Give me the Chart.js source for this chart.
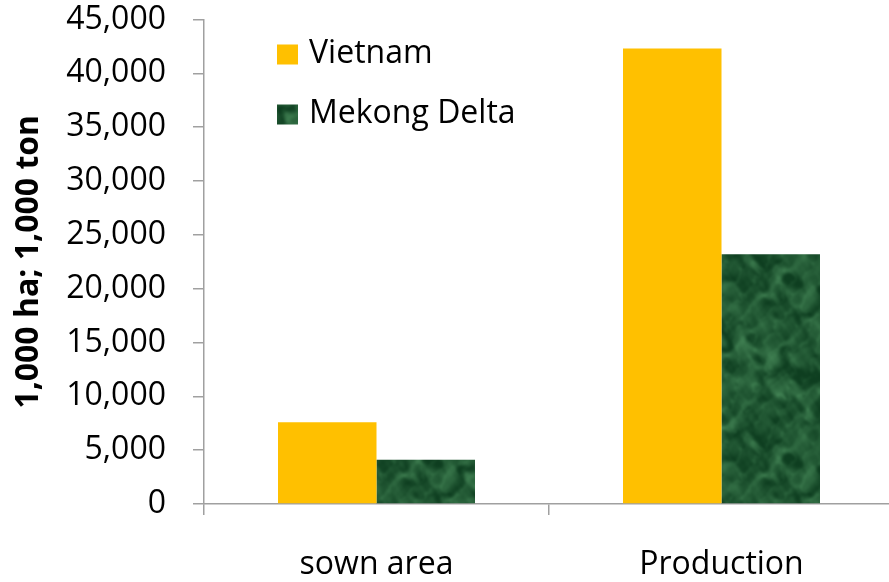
<!DOCTYPE html>
<html>
<head>
<meta charset="utf-8">
<script src="https://cdn.jsdelivr.net/npm/chart.js@4/dist/chart.umd.min.js"></script>
<style>
  html, body { margin: 0; padding: 0; background: #fff; overflow: hidden; }
  #wrap { position: relative; width: 894px; height: 582px; }
</style>
</head>
<body>
<div id="wrap"><canvas id="chart"></canvas></div>
<script>
// Rice sown area (1,000 ha) and production (1,000 ton)
const categories = ['sown area', 'Production'];
const seriesNames = ['Vietnam', 'Mekong Delta'];
const vietnam = [7600, 42300];
const mekongDelta = [4100, 23200];
const yTicks = [0, 5000, 10000, 15000, 20000, 25000, 30000, 35000, 40000, 45000];
const yTitle = '1,000 ha; 1,000 ton';

const FONT = "'Open Sans', 'Liberation Sans', sans-serif";
const AXIS_GREY = '#a0a0a0';

// Green marble fill: warped sine octaves (tileable), softened with a light blur
function marblePattern() {
  const size = 180;
  const k = 2 * Math.PI / size;
  const waves = [
    [2, 1, 1.0, 0.0], [1, 3, 0.9, 1.3], [4, -3, 0.6, 2.1], [5, 6, 0.5, 0.7],
    [-7, 4, 0.45, 3.0], [9, 11, 0.35, 1.1], [13, -8, 0.3, 2.5], [17, 19, 0.22, 0.4],
    [-23, 15, 0.18, 1.9], [29, -21, 0.12, 0.9]
  ];
  const raw = document.createElement('canvas');
  raw.width = size; raw.height = size;
  const g = raw.getContext('2d');
  const img = g.createImageData(size, size);
  let total = 0;
  waves.forEach(w => { total += w[2]; });
  for (let y = 0; y < size; y++) {
    for (let x = 0; x < size; x++) {
      const warp = 1.6 * Math.sin(k * (3 * x + 2 * y)) + 1.2 * Math.cos(k * (-2 * x + 5 * y))
                 + 0.6 * Math.sin(k * (8 * x - 7 * y));
      let n = 0;
      waves.forEach(w => { n += w[2] * Math.sin(k * (w[0] * x + w[1] * y) + w[3] + warp); });
      n /= total;                       // roughly -1..1
      const vein = Math.max(0, 1 - Math.abs(Math.sin(k * (5 * x + 3 * y) + 3 * n)) * 4);
      let t = 0.3 + 0.6 * n + 0.25 * vein;
      t = Math.max(0, Math.min(1, t));
      const i = (y * size + x) * 4;
      img.data[i]     = 14 + t * 62;
      img.data[i + 1] = 62 + t * 82;
      img.data[i + 2] = 32 + t * 62;
      img.data[i + 3] = 255;
    }
  }
  g.putImageData(img, 0, 0);
  // blur a 3x3 mosaic once, then keep the centre tile so edges wrap seamlessly
  const big = document.createElement('canvas');
  big.width = size * 3; big.height = size * 3;
  const b = big.getContext('2d');
  for (let dx = 0; dx < 3; dx++) for (let dy = 0; dy < 3; dy++) b.drawImage(raw, dx * size, dy * size);
  const soft = document.createElement('canvas');
  soft.width = size * 3; soft.height = size * 3;
  const s = soft.getContext('2d');
  s.filter = 'blur(0.8px)';
  s.drawImage(big, 0, 0);
  const tile = document.createElement('canvas');
  tile.width = size; tile.height = size;
  tile.getContext('2d').drawImage(soft, size, size, size, size, 0, 0, size, size);
  return tile.getContext('2d').createPattern(tile, 'repeat');
}

const ctx = document.getElementById('chart').getContext('2d');
const greenFill = marblePattern();
const fills = ['#FFC000', greenFill];

// Legend drawn inside the plot area, top-left
const innerLegend = {
  id: 'innerLegend',
  afterDraw(chart) {
    const { ctx, chartArea } = chart;
    const x0 = chartArea.left + 73;
    let y0 = chartArea.top + 25;
    ctx.save();
    ctx.font = '32px ' + FONT;
    ctx.textBaseline = 'middle';
    chart.data.datasets.forEach((ds) => {
      ctx.fillStyle = ds.backgroundColor;
      ctx.fillRect(x0, y0, 21, 20);
      ctx.fillStyle = '#000';
      ctx.fillText(ds.label, x0 + 32, y0 + 9);
      y0 += 60;
    });
    ctx.restore();
  }
};

new Chart(ctx, {
  type: 'bar',
  data: {
    labels: categories,
    datasets: [
      { label: seriesNames[0], data: vietnam, backgroundColor: fills[0] },
      { label: seriesNames[1], data: mekongDelta, backgroundColor: fills[1] }
    ]
  },
  options: {
    responsive: true,
    maintainAspectRatio: false,
    animation: false,
    layout: { padding: { top: 19.5, right: 0, bottom: 0, left: 0 } },
    datasets: { bar: { categoryPercentage: 0.571, barPercentage: 1.0, borderWidth: 0 } },
    plugins: { legend: { display: false }, tooltip: { enabled: false } },
    scales: {
      x: {
        offset: true,
        afterFit(scale) {
          scale.height = 78;
          scale.paddingLeft = 0;
          scale.paddingRight = 0;
        },
        grid: { display: true, offset: true, drawOnChartArea: false, drawTicks: true, tickLength: 11, color: AXIS_GREY, lineWidth: 1.5 },
        border: { display: true, color: AXIS_GREY, width: 1.5 },
        ticks: { color: '#000', font: { family: FONT, size: 32 }, padding: 31, maxRotation: 0 }
      },
      y: {
        min: 0,
        max: 45000,
        afterBuildTicks(scale) { scale.ticks = yTicks.map(v => ({ value: v })); },
        afterFit(scale) {
          scale.width = 204;
          scale.paddingTop = 0;
          scale.paddingBottom = 0;
        },
        grid: { display: true, drawOnChartArea: false, drawTicks: true, tickLength: 11, color: AXIS_GREY, lineWidth: 1.5 },
        border: { display: true, color: AXIS_GREY, width: 1.5 },
        ticks: {
          color: '#000',
          font: { family: FONT, size: 32 },
          padding: 27,
          callback: (v) => Number(v).toLocaleString('en-US')
        },
        title: {
          display: true,
          text: yTitle,
          color: '#000',
          font: { family: FONT, size: 32, weight: 'bold' },
          padding: { top: 10, bottom: 0 }
        }
      }
    }
  },
  plugins: [innerLegend]
});
</script>
</body>
</html>
